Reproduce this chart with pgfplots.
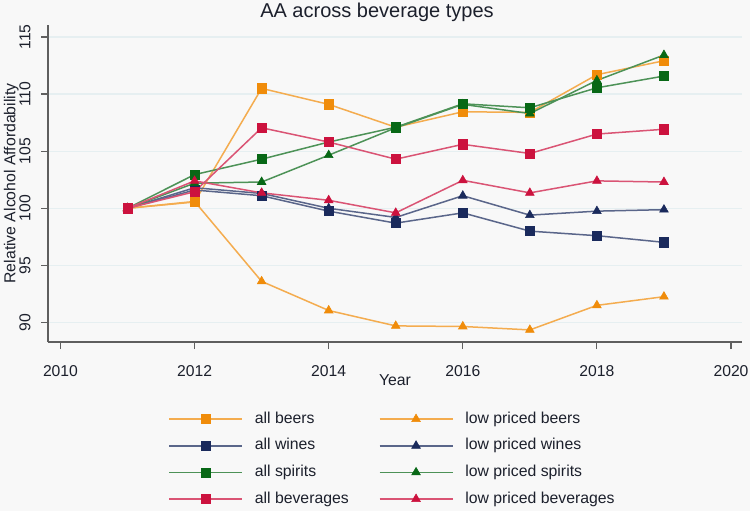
\documentclass[border=0pt]{standalone}
\usepackage{pgfplots}
\pgfplotsset{compat=1.18}
\usepackage{fontspec}
\setmainfont{Liberation Sans}

\definecolor{bg}{RGB}{248,248,248}
\definecolor{gridc}{RGB}{230,239,241}
\definecolor{axc}{RGB}{95,95,95}
\definecolor{txt}{RGB}{28,32,44}
\definecolor{cOr}{RGB}{240,140,10}
\definecolor{cNv}{RGB}{26,42,92}
\definecolor{cGr}{RGB}{8,104,22}
\definecolor{cRd}{RGB}{204,18,62}

% lines a little lighter than the marks, as in the original
\pgfplotsset{
  sq/.style={color=#1!72!white, line width=0.75pt, mark=square*, mark size=2.3pt,
    mark options={draw=#1, fill=#1, line width=0.3pt, solid}},
  tri/.style={color=#1!72!white, line width=0.75pt, mark=triangle*, mark size=2.5pt,
    mark options={draw=#1, fill=#1, line width=0.3pt, solid}},
}

\begin{document}
\begin{tikzpicture}
\fill[bg] (-24pt,-84.5pt) rectangle (351pt,171pt);
\begin{axis}[
  at={(0pt,0pt)}, anchor=south west,
  scale only axis, width=347pt, height=158.5pt,
  xmin=2009.814, xmax=2020.164,
  ymin=88.29, ymax=116.05,
  axis x line*=bottom, axis y line*=left,
  axis line style={draw=axc, line width=0.75pt},
  xtick={2010,2012,...,2020},
  ytick={90,95,...,115},
  tick align=outside, major tick length=3.5pt,
  tick style={draw=axc, line width=0.6pt},
  ymajorgrids, major grid style={draw=gridc, line width=0.6pt},
  /pgf/number format/.cd, 1000 sep={}, assume math mode=true, /pgfplots/.cd,
  ticklabel style={font=\fontsize{7.85}{9}\selectfont, text=txt},
  xticklabel style={anchor=base},
  yticklabel style={rotate=90, anchor=base},
  xticklabel shift=13.5pt,
  yticklabel shift=5.3pt,
  xlabel={Year}, ylabel={Relative Alcohol Affordability},
  every axis x label/.style={at={(axis description cs:0.5,0)}, anchor=base,
    yshift=-21.5pt, font=\fontsize{7.9}{9}\selectfont, text=txt},
  every axis y label/.style={at={(axis description cs:-0.04683,0.5)}, rotate=90,
    anchor=base, font=\fontsize{7.9}{9}\selectfont, text=txt},
  legend columns=2,
  legend cell align=left,
  legend style={at={(axis description cs:0.1728,-0.2192)}, anchor=north west,
    draw=none, fill=none, inner sep=0pt, row sep=6.1pt,
    font=\fontsize{7.9}{9}\selectfont, text=txt,
    nodes={inner sep=0pt},
    /tikz/every odd column/.append style={column sep=6pt},
    /tikz/every even column/.append style={column sep=15pt}},
  legend image code/.code={\draw[mark repeat=2, mark phase=2, #1]
    plot coordinates {(0pt,0pt) (18.25pt,0pt) (36.5pt,0pt)};},
]
\addplot[sq=cOr] coordinates {(2011,100) (2012,100.55) (2013,110.5) (2014,109.1) (2015,107.1) (2016,108.45) (2017,108.4) (2018,111.7) (2019,112.92)};
\addlegendentry{all beers}
\addplot[tri=cOr] coordinates {(2011,100) (2012,100.6) (2013,93.6) (2014,91.05) (2015,89.7) (2016,89.65) (2017,89.35) (2018,91.5) (2019,92.26)};
\addlegendentry{low priced beers}
\addplot[sq=cNv] coordinates {(2011,100) (2012,101.6) (2013,101.1) (2014,99.75) (2015,98.7) (2016,99.6) (2017,98.0) (2018,97.6) (2019,97.02)};
\addlegendentry{all wines}
\addplot[tri=cNv] coordinates {(2011,100) (2012,101.8) (2013,101.3) (2014,100.0) (2015,99.2) (2016,101.1) (2017,99.4) (2018,99.75) (2019,99.88)};
\addlegendentry{low priced wines}
\addplot[sq=cGr] coordinates {(2011,100) (2012,102.95) (2013,104.3) (2014,105.8) (2015,107.1) (2016,109.15) (2017,108.8) (2018,110.55) (2019,111.58)};
\addlegendentry{all spirits}
\addplot[tri=cGr] coordinates {(2011,100) (2012,102.2) (2013,102.3) (2014,104.65) (2015,107.05) (2016,109.1) (2017,108.3) (2018,111.2) (2019,113.42)};
\addlegendentry{low priced spirits}
\addplot[sq=cRd] coordinates {(2011,100) (2012,101.45) (2013,107.05) (2014,105.8) (2015,104.3) (2016,105.6) (2017,104.8) (2018,106.5) (2019,106.92)};
\addlegendentry{all beverages}
\addplot[tri=cRd] coordinates {(2011,100) (2012,102.4) (2013,101.35) (2014,100.7) (2015,99.6) (2016,102.45) (2017,101.35) (2018,102.4) (2019,102.3)};
\addlegendentry{low priced beverages}
\end{axis}
\node[anchor=base, font=\fontsize{10}{12}\selectfont, text=txt] at (164.5pt,162.25pt) {AA across beverage types};
\pgfresetboundingbox
\path[use as bounding box] (-24pt,-84.5pt) rectangle (351pt,171pt);
\end{tikzpicture}
\end{document}
